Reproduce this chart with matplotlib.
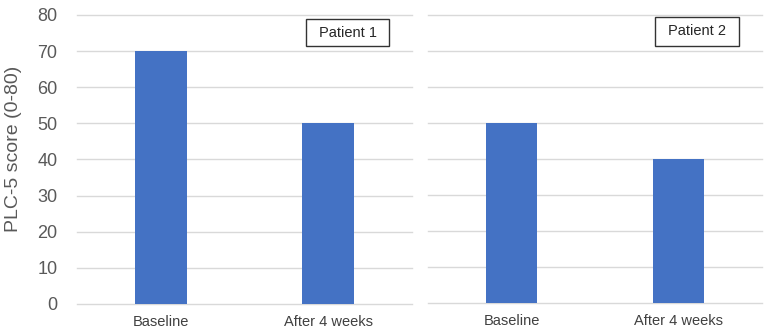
import matplotlib
matplotlib.use("Agg")
import matplotlib.pyplot as plt
from matplotlib.patches import Rectangle

categories = ["Baseline", "After 4 weeks"]
patient1 = [70, 50]
patient2 = [50, 40]
panel_titles = ["Patient 1", "Patient 2"]
yticks = [0, 10, 20, 30, 40, 50, 60, 70, 80]
ylabel = "PLC-5 score (0-80)"

plt.rcParams['font.family'] = ['Liberation Sans', 'DejaVu Sans']

fig = plt.figure(figsize=(7.67, 3.32), dpi=100)
W, H = 767, 332

def px_axes(x0, x1, ytop, ybot):
    return fig.add_axes([x0 / W, 1 - ybot / H, (x1 - x0) / W, (ybot - ytop) / H])

ax1 = px_axes(77, 412, 15, 304)
ax2 = px_axes(428, 762, 15, 303)

boxes = [(0.684, 0.931, 0.893, 0.985), (0.680, 0.931, 0.893, 0.993)]

for i, (ax, vals, title) in enumerate(zip([ax1, ax2], [patient1, patient2], panel_titles)):
    x = list(range(len(categories)))
    ax.bar(x, vals, width=0.31, color="#4472C4", zorder=3)
    ax.set_xlim(-0.5, 1.5)
    ax.set_ylim(0, 80)
    ax.set_yticks(yticks)
    ax.yaxis.grid(True, color="#d9d9d9", linewidth=1.0, zorder=0)
    for gl in ax.get_ygridlines():
        gl.set_clip_on(False)
    ax.set_axisbelow(True)
    for s in ax.spines.values():
        s.set_visible(False)
    ax.set_xticks(x)
    ax.set_xticklabels(categories, fontsize=10.5, color="#404040")
    ax.tick_params(axis='x', length=0, pad=8)
    ax.tick_params(axis='y', length=0, pad=14, labelsize=13, labelcolor="#595959")
    if i == 1:
        ax.set_yticklabels([])
    bx0, bx1, by0, by1 = boxes[i]
    ax.add_patch(Rectangle((bx0, by0), bx1 - bx0, by1 - by0, transform=ax.transAxes,
                           facecolor="white", edgecolor="#333333", linewidth=1.0,
                           zorder=5, clip_on=False))
    ax.text((bx0 + bx1) / 2, (by0 + by1) / 2, title, transform=ax.transAxes,
            ha="center", va="center", fontsize=10.5, color="#262626", zorder=6)

ax1.set_ylabel(ylabel, fontsize=14, color="#595959")
ax1.yaxis.set_label_coords(-0.164, 0.538)

fig.savefig("out.png", dpi=100)
